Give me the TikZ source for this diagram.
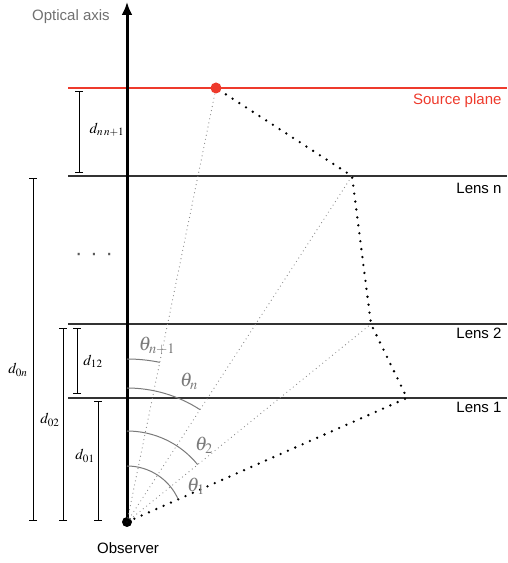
\documentclass[tikz,border=0pt]{standalone}
\usepackage{mathptmx}
\usepackage{fontspec}
\setmainfont{Liberation Sans}
\usetikzlibrary{arrows.meta}
\definecolor{srcred}{HTML}{EE3A2C}
\definecolor{axisgray}{HTML}{707070}
\definecolor{anglegray}{HTML}{7A7A7A}

\begin{document}
\begin{tikzpicture}[x=1pt,y=1pt,
  every node/.style={font=\fontsize{15}{18}\selectfont},
  plane/.style={line width=1.1pt,black!80},
  dimbar/.style={line width=0.9pt,{Bar[width=8pt]}-{Bar[width=8pt]}},
  ray/.style={line width=2.6pt,line cap=round,dash pattern=on 0pt off 8pt},
  sightline/.style={line width=1.2pt,anglegray!90,line cap=round,dash pattern=on 0pt off 4.2pt},
  anglearc/.style={line width=1pt,anglegray},
  anglelbl/.style={anglegray,inner sep=1pt,font=\fontsize{19.5}{22}\selectfont}]
\useasboundingbox (0,0) rectangle (507,563);

% source plane and lens planes
\coordinate (sl) at (68,475); \coordinate (sr) at (507,475);
\draw[srcred,line width=1.2pt] (sl) -- (sr);
\node[srcred,anchor=base east] (tsrc) at (505,458) {Source plane};
\foreach \name/\y/\dy/\txt in {n/387/18/Lens n,b/239/15/Lens 2,a/165/15/Lens 1} {
  \coordinate (l\name) at (68,\y); \coordinate (r\name) at (507,\y);
  \draw[plane] (l\name) -- (r\name);
  \node[anchor=base east] (t\name) at (505,\y-\dy) {\txt};
}
\node[black!65,font=\fontsize{22}{22}\selectfont] (gap) at (94,306) {·\hspace{8pt}·\hspace{8pt}·};

% optical axis and observer
\node[circle,fill,inner sep=0,minimum size=10pt] (obs) at (127,41) {};
\coordinate (top) at (127,561);
\draw[line width=3pt,-{Latex[length=13pt,width=11pt]}] (obs.center) -- (top);
\node[axisgray,anchor=base] (axlbl) at (71,542) {Optical axis};
\node (obslbl) at (128,15) {Observer};

% deflected ray through the lenses
\coordinate (p1) at (407,165);
\coordinate (p2) at (371,239);
\coordinate (pn) at (352,387);
\coordinate (s) at (216,475);
\foreach \p in {p2,pn,s} \draw[sightline] (obs.center) -- (\p);
\draw[ray] (obs.center) -- (p1) -- (p2) -- (pn) -- (s);
\node[circle,fill=srcred,inner sep=0,minimum size=11pt] (src) at (s) {};

% angles
\foreach \r/\a in {56/23.9,91/39.1,134/57.0,163/78.4}
  \draw[anglearc] (obs.center) ++(90:\r) arc[start angle=90,end angle=\a,radius=\r];
\node[anglelbl] (th1) at (196,77) {$\theta_1$};
\node[anglelbl] (th2) at (204,118) {$\theta_2$};
\node[anglelbl] (thn) at (189,182) {$\theta_n$};
\node[anglelbl] (thn1) at (157,217) {$\theta_{n+1}$};

% distances
\foreach \name/\x/\ya/\yb in {nn/79/472/390,0n/33/385/42,02/63/235/42,12/77/235/169,01/98/162/42} {
  \coordinate (\name t) at (\x,\ya); \coordinate (\name b) at (\x,\yb);
  \draw[dimbar] (\name t) -- (\name b);
}
\node (dnn) at (107,433) {$d_{n\,n+1}$};
\node (d0n) at (18,193) {$d_{0n}$};
\node (d02) at (50,143) {$d_{02}$};
\node (d12) at (93,202) {$d_{12}$};
\node (d01) at (85,107) {$d_{01}$};
\end{tikzpicture}
\end{document}
